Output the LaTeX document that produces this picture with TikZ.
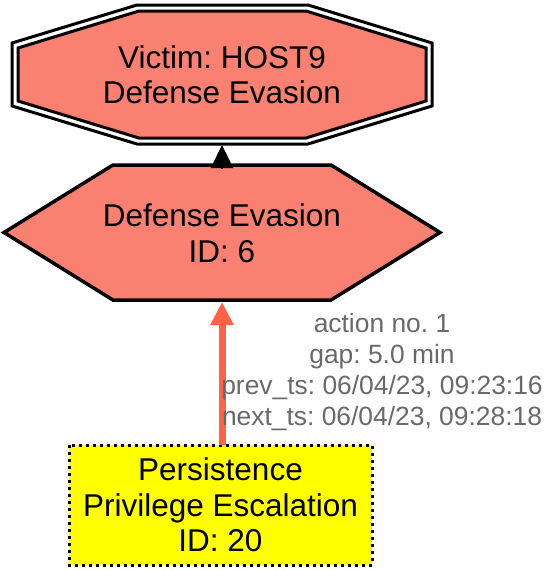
\documentclass[tikz,border=0pt]{standalone}
\usepackage{fontspec}
\setmainfont{Liberation Sans}
\usetikzlibrary{arrows.meta}
\frenchspacing
\definecolor{salmonfill}{HTML}{FA8072}
\definecolor{tomatoedge}{HTML}{FF6347}
\definecolor{labelgray}{HTML}{696969}
\definecolor{yellowfill}{HTML}{FFFF00}
\tikzset{
  maintext/.style={inner sep=0pt, align=center, font=\fontsize{31.5}{35.5}\selectfont},
  edgetext/.style={inner sep=0pt, align=center, text=labelgray, font=\fontsize{26.4}{31}\selectfont},
  shapeline/.style={draw=black, line width=3pt, line join=miter},
  blackedge/.style={draw=black, line width=2pt, -{Triangle[length=23pt,width=22pt]}},
  rededge/.style={draw=tomatoedge, line width=7pt, -{Triangle[length=23pt,width=22pt]}},
}
\begin{document}
\begin{tikzpicture}[x=1pt,y=-1pt]
\useasboundingbox (0,0) rectangle (549,570);
% top octagon, double periphery
\draw[shapeline, fill=white] (137,5) -- (308,5) -- (432,43) -- (432,106) -- (308,144) -- (137,144) -- (12,106) -- (12,43) -- cycle;
\draw[shapeline, fill=salmonfill] (139,11) -- (306,11) -- (426,48) -- (426,101) -- (306,138) -- (139,138) -- (18,101) -- (18,48) -- cycle;
\node[maintext] (victim) at (222,74.5) {Victim: HOST9\\Defense Evasion};
% hexagon
\draw[shapeline, line width=3.5pt, fill=salmonfill] (113,165) -- (331,165) -- (440,232.5) -- (331,300) -- (113,300) -- (4,232.5) -- cycle;
\node[maintext] (tactic) at (222,233) {Defense Evasion\\ID: 6};
% bottom dotted box
\draw[draw=black, line width=3pt, dash pattern=on 3pt off 4pt, fill=yellowfill] (69,445) rectangle (372,565);
\node[maintext] (step) at (220.5,505) {Persistence\\Privilege Escalation\\ID: 20};
% connector end points
\coordinate (octbot) at (222,145);
\coordinate (hextop) at (222,168);
\coordinate (hexbot) at (222,302);
\coordinate (boxtop) at (222,445);
\draw[blackedge] (hextop) -- (octbot);
\draw[rededge] (boxtop) -- (hexbot);
\node[edgetext] (lbl) at (382,372) {action no. 1\\gap: 5.0 min\\prev\_ts: 06/04/23, 09:23:16\\next\_ts: 06/04/23, 09:28:18};
\end{tikzpicture}
\end{document}
